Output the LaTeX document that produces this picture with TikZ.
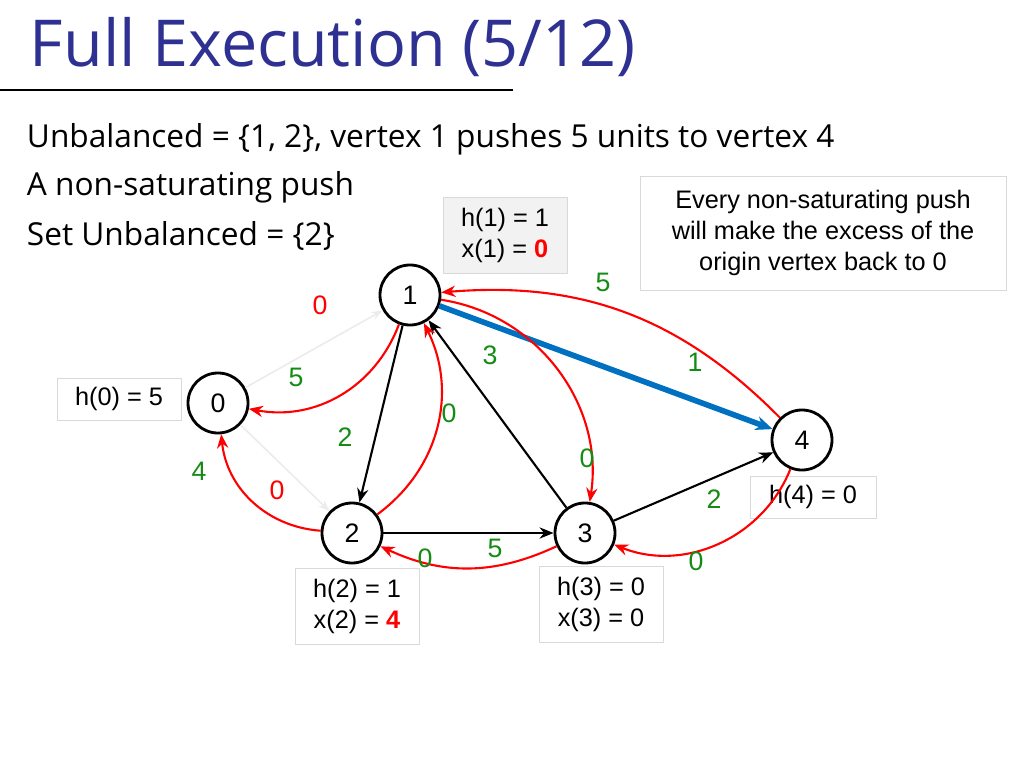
\documentclass[tikz,border=0pt]{standalone}
\usepackage{fontspec}
\setmainfont{Open Sans}
\newfontfamily\arialfont{Liberation Sans}
\usetikzlibrary{positioning,arrows.meta}
\definecolor{titleblue}{RGB}{46,49,146}
\definecolor{edgegreen}{RGB}{20,140,20}
\definecolor{pushblue}{RGB}{0,112,192}
\begin{document}
\begin{tikzpicture}[x=0.025cm, y=-0.025cm,
    vtx/.style={circle, draw, line width=2pt, minimum size=1.5cm, inner sep=0pt, font=\arialfont\fontsize{19}{21}\selectfont},
    info box/.style={draw=gray!30, rectangle, align=center, font=\arialfont\fontsize{18}{22}\selectfont},
    flow arrow/.style={-{Stealth[length=10pt,width=8pt]}, line width=1.5pt},
    res arrow/.style={-{Stealth[length=10pt,width=8pt]}, line width=1.5pt, red},
    ghost arrow/.style={-{Stealth[length=8pt,width=6pt]}, line width=1.2pt, gray!15},
    edge cap/.style={font=\arialfont\fontsize{19}{21}\selectfont, text=edgegreen},
    ghost cap/.style={font=\arialfont\fontsize{19}{21}\selectfont, text=red}]
  \useasboundingbox (0,0) rectangle (1024,768);

  % title
  \node [anchor=west, text=titleblue, font=\fontsize{46}{50}\selectfont] (title) at (25,47) {Full Execution (5/12)};
  \draw [line width=0.8pt] (0,90) -- (513,90);
  \node [anchor=west, font=\fontsize{22.5}{26}\selectfont] (line1) at (22,139) {Unbalanced = \{1, 2\}, vertex 1 pushes 5 units to vertex 4};
  \node [anchor=west, font=\fontsize{22.5}{26}\selectfont] (line2) at (22,187) {A non-saturating push};
  \node [anchor=west, font=\fontsize{22.5}{26}\selectfont] (line3) at (22,236) {Set Unbalanced = \{2\}};

  % vertices
  \node [vtx] (v1) at (410,295) {1};
  \node [vtx] (v0) at (218,403) {0};
  \node [vtx] (v2) at (352,533) {2};
  \node [vtx] (v3) at (585,533) {3};
  \node [vtx] (v4) at (802,440) {4};

  % labels
  \node [info box, fill=gray!10, minimum width=3.1cm, minimum height=1.9cm] (l1) at (505,235) {h(1) = 1\\x(1) = \textcolor{red}{\textbf{0}}};
  \node [info box, minimum width=3.1cm, minimum height=1.05cm] (l0) at (119,399) {h(0) = 5};
  \node [info box, minimum width=3.1cm, minimum height=1.9cm] (l2) at (357,606) {h(2) = 1\\x(2) = \textcolor{red}{\textbf{4}}};
  \node [info box, minimum width=3.1cm, minimum height=1.9cm] (l3) at (601,604) {h(3) = 0\\x(3) = 0};
  \node [info box, minimum width=3.15cm, minimum height=1.05cm] (l4) at (813,497) {h(4) = 0};
  \node [info box, minimum width=9.15cm, minimum height=2.85cm] (note) at (823,233) {Every non-saturating push\\will make the excess of the\\origin vertex back to 0};

  % edges
  \draw [ghost arrow] (v0) -- (v1);
  \draw [ghost arrow] (v0) -- (v2);
  \draw [flow arrow] (v1) -- (v2);
  \draw [flow arrow] (v2) -- (v3);
  \draw [flow arrow] (v3) -- (v1);
  \draw [flow arrow] (v3) -- (v4);
  \draw [-{Stealth[length=12pt,width=10pt]}, line width=4pt, pushblue] (v1) -- (v4);
  \draw [res arrow] (v4) to [bend right=25] (v1);
  \draw [res arrow] (v1) to [bend left=45] (v3);
  \draw [res arrow] (v1) to [bend left=40] (v0);
  \draw [res arrow] (v2) to [bend right=40] (v1);
  \draw [res arrow] (v2) to [bend left=40] (v0);
  \draw [res arrow] (v3) to [bend left=25] (v2);
  \draw [res arrow] (v4) to [bend left=45] (v3);

  % capacities
  \node [ghost cap] (c01) at (320,305) {0};
  \node [ghost cap] (c02) at (277,490) {0};
  \node [edge cap] (c12) at (345,437) {2};
  \node [edge cap] (c23) at (495,548) {5};
  \node [edge cap] (c31) at (490,355) {3};
  \node [edge cap] (c34) at (714,499) {2};
  \node [edge cap] (c14) at (695,362) {1};
  \node [edge cap] (c41) at (603,282) {5};
  \node [edge cap] (c13) at (587,458) {0};
  \node [edge cap] (c10) at (296,377) {5};
  \node [edge cap] (c21) at (449,413) {0};
  \node [edge cap] (c20) at (199,471) {4};
  \node [edge cap] (c32) at (425,558) {0};
  \node [edge cap] (c43) at (696,561) {0};
\end{tikzpicture}
\end{document}
